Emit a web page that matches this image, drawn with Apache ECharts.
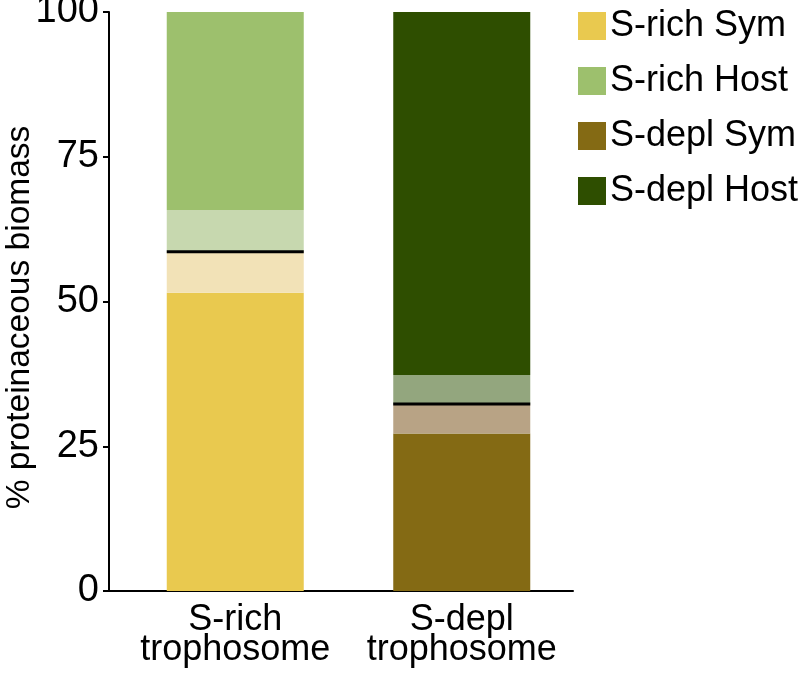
<!DOCTYPE html>
<html>
<head>
<meta charset="utf-8">
<script src="https://cdn.jsdelivr.net/npm/echarts@6/dist/echarts.min.js"></script>
<style>
html,body{margin:0;padding:0;background:#fff;}
#chart{width:800px;height:673px;}
</style>
</head>
<body>
<div id="chart"></div>
<script>
// ---- data ----
var categories = ['S-rich\ntrophosome', 'S-depl\ntrophosome'];
var symLower = [51.5, 27.2];   // lower bound of symbiont share
var symMean = [58.6, 32.3];    // mean symbiont share (black line)
var symUpper = [65.8, 37.3];   // upper bound of symbiont share
var yTicks = [0, 25, 50, 75, 100];

var legendNames = ['S-rich Sym', 'S-rich Host', 'S-depl Sym', 'S-depl Host'];
var solidColors = { 'S-rich Sym': '#E9C94F', 'S-rich Host': '#9DC06D', 'S-depl Sym': '#846A14', 'S-depl Host': '#2E4E00' };
var lowBandColors = ['#F2E2B7', '#B8A385'];
var highBandColors = ['#C7D8AF', '#93A67E'];

var FONT = 'Liberation Sans, Arial, Helvetica, sans-serif';
var BAR_W = 137;

function only(idx, v) { return categories.map(function (c, i) { return i === idx ? v : '-'; }); }

var lowBand = categories.map(function (c, i) {
  return { value: +(symMean[i] - symLower[i]).toFixed(2), itemStyle: { color: lowBandColors[i] } };
});
var highBand = categories.map(function (c, i) {
  return { value: +(symUpper[i] - symMean[i]).toFixed(2), itemStyle: { color: highBandColors[i] } };
});

var chart = echarts.init(document.getElementById('chart'), null, { renderer: 'canvas' });
var option = {
  animation: false,
  backgroundColor: '#fff',
  textStyle: { fontFamily: FONT, color: '#000' },
  legend: {
    data: legendNames,
    orient: 'vertical',
    left: 578, top: 8, padding: 0,
    itemWidth: 28, itemHeight: 28, itemGap: 19,
    icon: 'rect',
    textStyle: { fontSize: 36, color: '#000', fontFamily: FONT, padding: [0, 0, 0, -1] },
    selectedMode: false
  },
  grid: [
    { left: 122, right: 225, top: 12, bottom: 82, outerBoundsMode: 'none', containLabel: false },
    { left: 105, right: 227, top: 12, bottom: 82, outerBoundsMode: 'none', containLabel: false }
  ],
  xAxis: [
    {
      type: 'category', data: categories, gridIndex: 0,
      axisLine: { show: false }, axisTick: { show: false },
      axisLabel: { interval: 0, fontSize: 36, color: '#000', fontFamily: FONT, lineHeight: 30, margin: 14 }
    },
    {
      type: 'value', gridIndex: 1, min: 0, max: 1,
      axisLine: { show: true, lineStyle: { color: '#000', width: 2 } },
      axisTick: { show: false }, axisLabel: { show: false }, splitLine: { show: false }
    }
  ],
  yAxis: [
    {
      type: 'value', gridIndex: 0, min: 0, max: 100, interval: 25, offset: 13,
      name: '% proteinaceous biomass', nameLocation: 'middle', nameGap: 72, nameMoveOverlap: false,
      nameTextStyle: { fontSize: 33.5, color: '#000', fontFamily: FONT, padding: [0, 32, 0, 0] },
      axisLine: { show: true, lineStyle: { color: '#000', width: 2 } },
      axisTick: { show: true, length: 6, lineStyle: { color: '#000', width: 2 } },
      axisLabel: { fontSize: 38, color: '#000', fontFamily: FONT, margin: 10,
        formatter: function (v) { return yTicks.indexOf(v) >= 0 ? String(v) : ''; } },
      splitLine: { show: false }
    },
    { type: 'value', gridIndex: 1, show: false, min: 0, max: 1 }
  ],
  series: [
    { name: 'S-rich Sym', type: 'bar', stack: 'total', barWidth: BAR_W, data: only(0, symLower[0]), itemStyle: { color: solidColors['S-rich Sym'] } },
    { name: 'S-depl Sym', type: 'bar', stack: 'total', barWidth: BAR_W, data: only(1, symLower[1]), itemStyle: { color: solidColors['S-depl Sym'] } },
    { name: 'lowBand', type: 'bar', stack: 'total', barWidth: BAR_W, data: lowBand },
    { name: 'highBand', type: 'bar', stack: 'total', barWidth: BAR_W, data: highBand },
    { name: 'S-rich Host', type: 'bar', stack: 'total', barWidth: BAR_W, data: only(0, +(100 - symUpper[0]).toFixed(2)), itemStyle: { color: solidColors['S-rich Host'] } },
    { name: 'S-depl Host', type: 'bar', stack: 'total', barWidth: BAR_W, data: only(1, +(100 - symUpper[1]).toFixed(2)), itemStyle: { color: solidColors['S-depl Host'] } },
    {
      name: 'mean', type: 'custom', z: 10,
      data: symMean.map(function (v, i) { return [i, v]; }),
      renderItem: function (params, api) {
        var c = api.coord([api.value(0), api.value(1)]);
        return {
          type: 'line',
          shape: { x1: c[0] - BAR_W / 2, y1: c[1], x2: c[0] + BAR_W / 2, y2: c[1] },
          style: { stroke: '#000', lineWidth: 3 }
        };
      }
    }
  ]
};
chart.setOption(option);
</script>
</body>
</html>
